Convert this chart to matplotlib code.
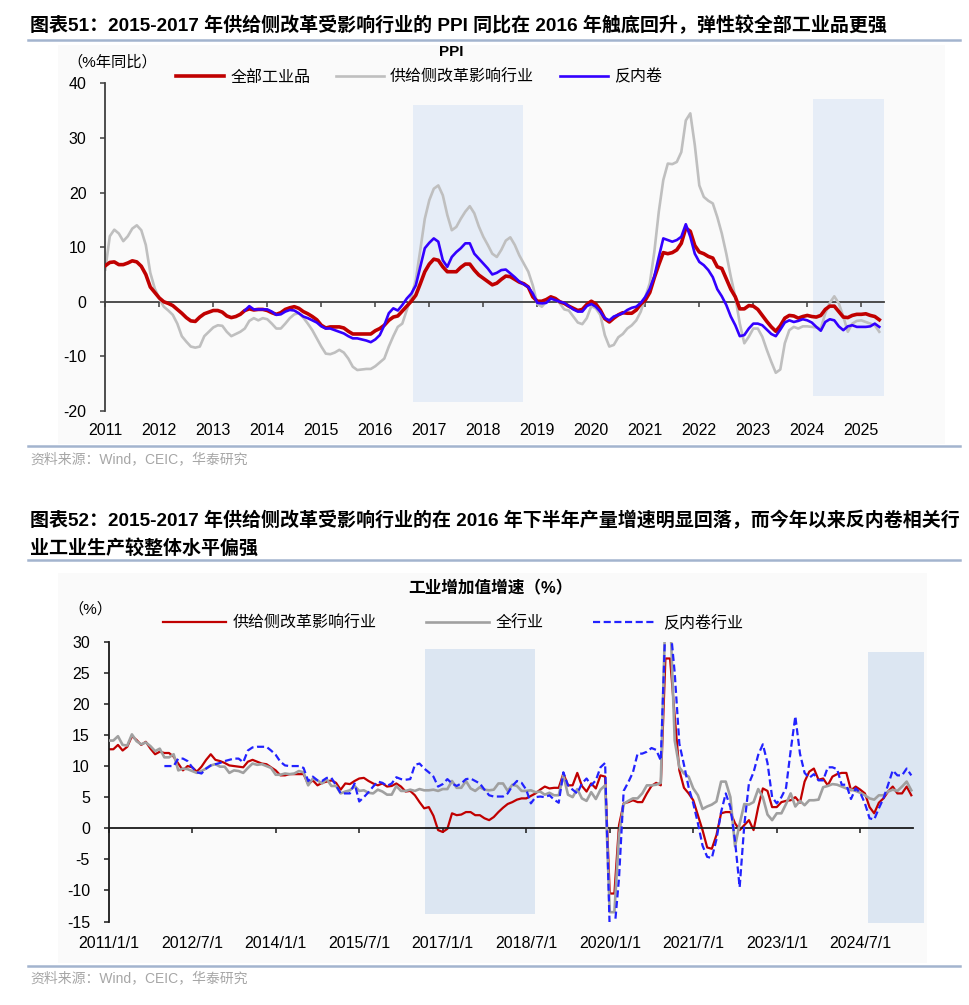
import numpy as np
import matplotlib
matplotlib.use("Agg")
import matplotlib.pyplot as plt
from matplotlib.patches import Rectangle
from matplotlib.lines import Line2D

plt.rcParams['font.family'] = ['Liberation Sans', 'Noto Sans CJK SC', 'DejaVu Sans']
plt.rcParams['axes.unicode_minus'] = False

# ---------------- Chart 1 data: PPI yoy (%), monthly from 2011-01 ----------------
ppi_start_year = 2011
ppi_all = [
    6.6, 7.2, 7.3, 6.8, 6.8, 7.1, 7.5, 7.3, 6.5, 5.0, 2.7, 1.7,
    0.7, 0.0, -0.3, -0.7, -1.4, -2.1, -2.9, -3.5, -3.6, -2.8, -2.2, -1.9,
    -1.6, -1.6, -1.9, -2.6, -2.9, -2.7, -2.3, -1.6, -1.3, -1.5, -1.4, -1.4,
    -1.6, -2.0, -2.3, -2.0, -1.4, -1.1, -0.9, -1.2, -1.8, -2.2, -2.7, -3.3,
    -4.3, -4.8, -4.6, -4.6, -4.6, -4.8, -5.4, -5.9, -5.9, -5.9, -5.9, -5.9,
    -5.3, -4.9, -4.3, -3.4, -2.8, -2.6, -1.7, -0.8, 0.1, 1.2, 3.3, 5.5,
    6.9, 7.8, 7.6, 6.4, 5.5, 5.5, 5.5, 6.3, 6.9, 6.9, 5.8, 4.9,
    4.3, 3.7, 3.1, 3.4, 4.1, 4.7, 4.6, 4.1, 3.6, 3.3, 2.7, 0.9,
    0.1, 0.1, 0.4, 0.9, 0.6, 0.0, -0.3, -0.8, -1.2, -1.6, -1.4, -0.5,
    0.1, -0.4, -1.5, -3.1, -3.7, -3.0, -2.4, -2.0, -2.1, -2.1, -1.5, -0.4,
    0.3, 1.7, 4.4, 6.8, 9.0, 8.8, 9.0, 9.5, 10.7, 13.5, 12.9, 10.3,
    9.1, 8.8, 8.3, 8.0, 6.4, 6.1, 4.2, 2.3, 0.9, -1.3, -1.3, -0.7,
    -0.8, -1.4, -2.5, -3.6, -4.6, -5.4, -4.4, -3.0, -2.5, -2.6, -3.0, -2.7,
    -2.5, -2.7, -2.8, -2.5, -1.4, -0.8, -0.8, -1.8, -2.8, -2.9, -2.5, -2.3,
    -2.3, -2.2, -2.5, -2.7, -3.3,
]
ppi_supply = [
    5.9, 12.0, 13.2, 12.5, 11.1, 12.0, 13.4, 14.0, 13.1, 10.4, 5.3, 2.4,
    0.6, -0.9, -1.6, -2.4, -4.0, -6.3, -7.3, -8.2, -8.4, -8.2, -6.3, -5.5,
    -4.7, -4.3, -4.4, -5.5, -6.3, -5.9, -5.5, -4.9, -3.5, -3.0, -3.4, -3.0,
    -3.2, -4.0, -4.9, -4.9, -4.0, -3.0, -2.3, -2.1, -2.9, -4.0, -5.2, -6.7,
    -8.2, -9.5, -9.6, -9.3, -8.8, -9.3, -10.4, -11.9, -12.5, -12.4, -12.3, -12.3,
    -11.8, -11.1, -10.4, -8.2, -6.3, -4.6, -4.0, -1.5, 0.9, 4.0, 9.5, 15.2,
    18.6, 20.7, 21.3, 19.5, 15.9, 13.1, 13.7, 15.2, 16.5, 17.5, 16.2, 13.8,
    11.9, 10.4, 8.8, 8.2, 9.5, 11.2, 11.8, 10.4, 8.5, 7.0, 5.5, 3.0,
    -0.4, -0.9, 0.0, 0.9, 0.6, -0.3, -1.4, -1.6, -2.7, -3.8, -4.1, -3.0,
    -0.8, -1.2, -2.4, -6.1, -8.2, -7.9, -6.5, -5.9, -4.9, -4.3, -3.4, -1.8,
    0.9, 3.4, 9.1, 16.5, 22.3, 25.3, 25.2, 25.6, 27.4, 33.2, 34.5, 28.7,
    21.3, 19.2, 18.5, 18.0, 15.5, 12.5, 8.8, 4.6, 0.9, -4.0, -7.6, -6.4,
    -4.9, -4.9, -6.4, -8.8, -11.0, -13.0, -12.4, -7.6, -5.2, -4.6, -4.9, -4.5,
    -4.5, -4.6, -4.7, -4.9, -2.1, -0.2, 1.0, -0.3, -2.7, -5.5, -4.0, -3.5,
    -3.4, -3.7, -4.0, -4.3, -5.5,
]
# 反内卷 series starts 2013-08
ppi_anti_start = 31
ppi_anti = [
    -1.6, -0.8, -1.4, -1.4, -1.4,
    -1.4, -1.8, -2.4, -2.3, -1.8, -1.5, -1.6, -2.1, -2.7, -3.0, -3.4, -3.8,
    -4.5, -4.9, -4.9, -5.2, -5.5, -5.8, -6.3, -6.7, -6.7, -6.9, -7.1, -7.4,
    -6.9, -6.1, -4.3, -2.1, -1.2, -1.6, -0.6, 0.6, 1.5, 3.0, 6.4, 9.8,
    10.8, 11.6, 11.0, 7.6, 6.4, 8.2, 9.1, 9.8, 10.7, 10.7, 8.8, 7.9,
    7.0, 6.1, 5.0, 5.3, 5.8, 5.9, 5.2, 4.5, 3.7, 3.2, 2.7, 1.5,
    -0.2, -0.3, -0.2, 0.6, 0.3, 0.0, -0.2, -0.8, -1.4, -1.8, -1.8, -0.8,
    -0.4, -0.9, -1.8, -3.0, -3.4, -2.7, -2.4, -2.1, -1.5, -1.1, -0.9, -0.2,
    0.9, 2.4, 4.6, 8.2, 11.6, 11.3, 11.0, 11.3, 11.9, 14.2, 11.9, 8.8,
    7.3, 6.7, 5.8, 4.5, 2.3, 1.0, -0.6, -2.7, -4.3, -6.3, -6.1, -4.9,
    -4.0, -4.0, -4.3, -5.1, -5.9, -6.3, -5.1, -3.8, -3.4, -3.7, -3.5, -3.2,
    -3.4, -3.8, -4.6, -5.3, -3.7, -3.2, -3.4, -4.5, -5.2, -4.5, -4.3, -4.6,
    -4.6, -4.6, -4.5, -4.0, -4.6,
]
ppi_year_labels = [str(y) for y in range(2011, 2026)]
ppi_shade_periods = [(68.4, 92.8, -18.3, 36.0), (157.3, 173.1, -17.2, 37.2)]  # (month from, month to, low, high)

# ---------------- Chart 2 data: industrial value added yoy (%), monthly from 2011-01 ----------------
iva_supply = [
    12.7, 12.7, 13.4, 12.5, 13.1, 14.8, 14.2, 13.4, 13.9, 12.8, 11.9, 12.3,
    12.1, 12.1, 11.5, 10.4, 9.3, 10.0, 9.8, 9.1, 9.9, 11.0, 11.9, 11.0,
    10.8, 10.5, 10.1, 10.0, 9.9, 9.8, 10.7, 11.0, 10.7, 10.4, 10.3, 9.8,
    9.3, 8.5, 8.5, 8.7, 8.7, 8.7, 8.7, 7.1, 7.7, 6.9, 7.3, 7.5,
    7.7, 7.3, 6.2, 7.2, 7.1, 7.6, 8.0, 8.1, 7.6, 7.2, 6.9, 7.2,
    6.7, 6.8, 7.2, 6.7, 5.9, 6.0, 5.3, 4.2, 3.2, 3.4, 2.0, -0.3,
    -0.6, -0.1, 2.4, 2.1, 2.2, 2.6, 2.6, 2.1, 2.1, 1.6, 1.3, 1.8,
    2.6, 3.3, 3.9, 4.2, 4.6, 4.8, 4.8, 5.2, 5.6, 6.2, 6.7, 6.4,
    6.5, 6.5, 8.8, 6.9, 6.9, 8.9, 6.8, 5.9, 7.2, 6.4, 8.5, 8.3,
    -10.5, -10.5, 0.5, 4.0, 4.2, 4.5, 4.2, 4.2, 5.6, 6.8, 7.3, 6.9,
    27.3, 27.3, 18.0, 9.3, 6.5, 5.6, 4.5, 2.1, -0.3, -3.1, -3.3, -1.1,
    2.4, 2.6, 2.6, 0.8, -0.3, 0.5, 1.3, -0.3, 3.4, 6.4, 6.0, 3.4,
    3.4, 4.2, 4.4, 4.5, 5.0, 4.1, 7.5, 9.1, 9.6, 7.8, 8.0, 6.9,
    8.3, 8.7, 8.9, 8.9, 6.1, 6.7, 6.2, 5.6, 3.4, 2.4, 4.1, 4.8,
    5.9, 6.7, 5.6, 5.6, 6.7, 5.3,
]
iva_all = [
    14.1, 14.1, 14.8, 13.4, 13.3, 15.1, 14.0, 13.5, 13.8, 13.2, 12.4, 12.8,
    11.4, 11.4, 11.9, 9.3, 9.6, 9.5, 9.2, 8.9, 9.2, 9.6, 10.1, 10.3,
    9.9, 9.9, 8.9, 9.3, 9.2, 8.9, 9.7, 10.4, 10.2, 10.3, 10.0, 9.7,
    8.6, 8.6, 8.8, 8.7, 8.8, 9.2, 9.0, 6.9, 8.0, 7.7, 7.2, 7.9,
    6.8, 6.8, 5.6, 5.9, 6.1, 6.8, 6.0, 6.1, 5.7, 5.6, 6.2, 5.9,
    5.4, 5.4, 6.8, 6.0, 6.0, 6.2, 6.0, 6.3, 6.1, 6.1, 6.2, 6.0,
    6.3, 6.3, 7.6, 6.5, 6.5, 7.6, 6.4, 6.0, 6.6, 6.2, 6.1, 6.2,
    7.2, 7.2, 6.0, 7.0, 6.8, 6.0, 6.0, 6.1, 5.8, 5.9, 5.4, 5.7,
    5.3, 5.3, 8.5, 5.4, 5.0, 6.3, 4.8, 4.4, 5.8, 4.7, 6.2, 6.9,
    -13.5, -13.5, -1.1, 3.9, 4.4, 4.8, 4.8, 5.6, 6.9, 6.9, 7.0, 7.3,
    35.1, 35.1, 14.1, 9.8, 8.8, 8.3, 6.4, 5.3, 3.1, 3.5, 3.8, 4.3,
    7.5, 7.5, 5.0, -2.9, 0.7, 3.9, 3.8, 4.2, 6.3, 5.0, 2.2, 1.3,
    2.4, 2.4, 3.9, 5.6, 3.5, 4.4, 3.7, 4.5, 4.5, 4.6, 6.6, 6.8,
    7.1, 7.0, 6.7, 6.4, 6.2, 6.0, 5.7, 5.3, 4.8, 4.6, 5.3, 5.3,
    5.9, 6.2, 6.0, 6.7, 7.5, 6.1,
]
# 反内卷行业 series starts 2012-01
iva_anti_start = 12
iva_anti = [
    10.0, 10.0, 10.0, 11.2, 11.2, 10.8, 9.8, 9.0, 8.8, 9.6, 10.1, 10.3,
    10.5, 10.8, 11.0, 11.2, 11.2, 10.6, 12.5, 13.0, 13.1, 13.1, 13.1, 12.5,
    11.8, 10.7, 10.1, 10.0, 10.0, 10.0, 9.7, 7.6, 8.3, 7.7, 7.6, 8.1,
    8.1, 6.9, 5.6, 5.6, 5.6, 7.2, 4.3, 5.0, 5.8, 6.7, 7.5, 7.3,
    6.8, 7.2, 8.2, 7.9, 7.8, 7.9, 10.2, 10.4, 9.6, 9.0, 8.3, 6.7,
    7.1, 7.9, 7.2, 6.8, 7.2, 7.9, 8.0, 7.6, 7.2, 6.2, 5.3, 5.1,
    5.1, 5.1, 5.6, 6.8, 7.6, 7.3, 6.2, 4.0, 5.0, 5.1, 5.0, 5.3,
    4.6, 4.1, 9.0, 6.9, 6.2, 5.6, 7.2, 8.0, 6.9, 7.7, 9.8, 10.5,
    -16.5, -16.5, -8.0, 6.0, 7.4, 9.0, 12.0, 12.0, 12.3, 12.9, 12.6, 10.9,
    33.0, 33.0, 25.0, 13.6, 10.2, 6.6, 4.0, 0.8, -2.8, -4.6, -4.8, -1.8,
    2.6, 5.6, 3.4, -2.0, -9.5, 0.5, 7.2, 9.0, 11.8, 13.5, 10.5, 5.0,
    4.0, 5.0, 6.5, 12.5, 18.0, 12.0, 8.9, 8.1, 8.7, 7.7, 7.7, 9.8,
    9.8, 9.5, 7.0, 7.0, 4.7, 6.4, 5.7, 4.0, 1.6, 1.4, 3.2, 4.8,
    7.0, 9.3, 8.5, 8.5, 9.6, 8.5,
]
iva_tick_labels = ['2011/1/1', '2012/7/1', '2014/1/1', '2015/7/1', '2017/1/1',
                   '2018/7/1', '2020/1/1', '2021/7/1', '2023/1/1', '2024/7/1']
iva_shade_periods = [(68.2, 91.9, -13.85, 28.9), (163.6, 175.7, -15.2, 28.3)]

# ---------------- figure ----------------
W, H = 969, 1005
fig = plt.figure(figsize=(W / 100, H / 100), dpi=100)

def fx(px):
    return px / W

def fy(py):
    return 1 - py / H

CJK = ['Liberation Sans', 'Noto Sans CJK SC']
SEP = '#A3B4CE'
AXC = '#3F3F3F'

# light panels behind charts
fig.patches.append(Rectangle((fx(58), fy(444)), fx(945) - fx(58), fy(45) - fy(444),
                             transform=fig.transFigure, facecolor='#FAFAFA', edgecolor='none', zorder=-5))
fig.patches.append(Rectangle((fx(58), fy(963)), fx(927) - fx(58), fy(573) - fy(963),
                             transform=fig.transFigure, facecolor='#FAFAFA', edgecolor='none', zorder=-5))

# titles / separators / sources
fig.text(fx(30), fy(25), '图表51：2015-2017 年供给侧改革受影响行业的 PPI 同比在 2016 年触底回升，弹性较全部工业品更强',
         fontsize=13.7, fontweight='bold', family=CJK, va='center', ha='left')
fig.text(fx(30), fy(521), '图表52：2015-2017 年供给侧改革受影响行业的在 2016 年下半年产量增速明显回落，而今年以来反内卷相关行',
         fontsize=13.7, fontweight='bold', family=CJK, va='center', ha='left')
fig.text(fx(30), fy(548), '业工业生产较整体水平偏强',
         fontsize=13.7, fontweight='bold', family=CJK, va='center', ha='left')
for y in (40, 446, 560, 966):
    fig.add_artist(Line2D([fx(28), fx(960)], [fy(y), fy(y)], color=SEP, lw=1.8, transform=fig.transFigure))
for y in (459, 978):
    fig.text(fx(30), fy(y), '资料来源：Wind，CEIC，华泰研究', fontsize=10, color='#A6A6A6',
             family=CJK, va='center', ha='left')

# ---------------- Chart 1 ----------------
ax1 = fig.add_axes([fx(105.3), fy(411), fx(883.8) - fx(105.3), fy(83.3) - fy(411)])
ax1.set_facecolor('none')
n1 = len(ppi_all)
m1 = np.arange(n1)
anti1 = np.full(n1, np.nan)
anti1[ppi_anti_start:ppi_anti_start + len(ppi_anti)] = ppi_anti
for (a, b, lo, hi) in ppi_shade_periods:
    ax1.add_patch(Rectangle((a, lo), b - a, hi - lo, facecolor='#E6EDF7', edgecolor='none', zorder=0, clip_on=False))
l_gray, = ax1.plot(m1, ppi_supply, color='#BFBFBF', lw=1.9, zorder=2, label='供给侧改革影响行业')
l_red, = ax1.plot(m1, ppi_all, color='#C00000', lw=2.6, zorder=3, label='全部工业品')
l_blue, = ax1.plot(m1, anti1, color='#3300FF', lw=1.9, zorder=4, label='反内卷')
ax1.set_xlim(0, 173)
ax1.set_ylim(-20, 40)
ax1.set_yticks(np.arange(-20, 41, 10))
ax1.set_xticks(np.arange(0, 12 * len(ppi_year_labels), 12))
ax1.set_xticklabels(ppi_year_labels)
ax1.spines['top'].set_visible(False)
ax1.spines['right'].set_visible(False)
ax1.spines['bottom'].set_position(('data', 0))
for s in ('left', 'bottom'):
    ax1.spines[s].set_color(AXC)
    ax1.spines[s].set_linewidth(1.3)
ax1.spines['bottom'].set_zorder(1)
ax1.tick_params(axis='x', direction='out', length=3.5, width=1.1, color=AXC, pad=84, labelsize=11.5)
ax1.tick_params(axis='y', direction='out', length=3.5, width=1.1, color=AXC, pad=10, labelsize=11.5)
fig.text(fx(451), fy(52), 'PPI', fontsize=11, fontweight='bold', ha='center', va='center')
fig.text(fx(112), fy(62), '（%年同比）', fontsize=11, family=CJK, ha='center', va='center')
ax1.legend(handles=[l_red, l_gray, l_blue], loc='center', bbox_to_anchor=(fx(419), fy(77)),
           bbox_transform=fig.transFigure, ncol=3, frameon=False, prop={'family': CJK, 'size': 11.5},
           handlelength=3.0, handletextpad=0.4, columnspacing=1.6, borderpad=0)

# ---------------- Chart 2 ----------------
ax2 = fig.add_axes([fx(108.7), fy(921.5), fx(912.7) - fx(108.7), fy(641.7) - fy(921.5)])
ax2.set_facecolor('none')
n2 = len(iva_supply)
m2 = np.arange(n2)
anti2 = np.full(n2, np.nan)
anti2[iva_anti_start:iva_anti_start + len(iva_anti)] = iva_anti
for (a, b, lo, hi) in iva_shade_periods:
    ax2.add_patch(Rectangle((a, lo), b - a, hi - lo, facecolor='#DCE6F2', edgecolor='none', zorder=0, clip_on=False))
r2, = ax2.plot(m2, iva_supply, color='#C00000', lw=1.6, zorder=2, label='供给侧改革影响行业')
g2, = ax2.plot(m2, iva_all, color='#A0A0A0', lw=1.9, zorder=3, label='全行业')
b2, = ax2.plot(m2, anti2, color='#2222FF', lw=1.6, ls=(0, (3.2, 1.6)), zorder=4, label='反内卷行业')
ax2.set_xlim(0, 173.3)
ax2.set_ylim(-15, 30)
ax2.set_yticks(np.arange(-15, 31, 5))
ax2.set_xticks(np.arange(0, 18 * len(iva_tick_labels), 18))
ax2.set_xticklabels(iva_tick_labels)
ax2.spines['top'].set_visible(False)
ax2.spines['right'].set_visible(False)
ax2.spines['bottom'].set_position(('data', 0))
for s in ('left', 'bottom'):
    ax2.spines[s].set_color('#1A1A1A')
    ax2.spines[s].set_linewidth(1.3)
ax2.tick_params(axis='x', direction='out', length=3.5, width=1.1, color='#1A1A1A', pad=74, labelsize=11.5)
ax2.tick_params(axis='y', direction='out', length=3.5, width=1.1, color='#1A1A1A', pad=10, labelsize=11.5)
fig.text(fx(490), fy(588), '工业增加值增速（%）', fontsize=12, fontweight='bold', family=CJK, ha='center', va='center')
fig.text(fx(90), fy(609), '（%）', fontsize=11, family=CJK, ha='center', va='center')
ax2.legend(handles=[r2, g2, b2], loc='center', bbox_to_anchor=(fx(453), fy(623)),
           bbox_transform=fig.transFigure, ncol=3, frameon=False, prop={'family': CJK, 'size': 11.5},
           handlelength=3.9, handletextpad=0.45, columnspacing=3.1, borderpad=0)

fig.savefig('out.png', dpi=100)
